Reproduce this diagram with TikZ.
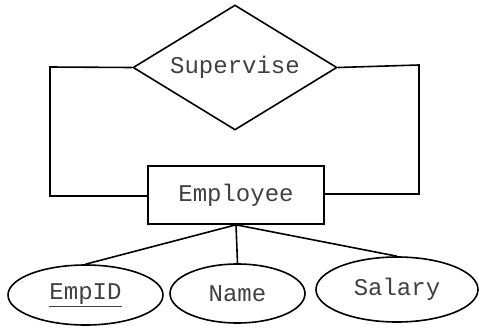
\documentclass[tikz,border=0pt]{standalone}
\usepackage{fontspec}
\setmonofont{Liberation Mono}
\usetikzlibrary{shapes.geometric}
\begin{document}
\begin{tikzpicture}[x=1pt,y=-1pt,
  every node/.style={font=\ttfamily\fontsize{24}{26}\selectfont, text=black!75},
  conn/.style={line width=1.6pt},
  entity/.style={draw, line width=1.6pt, rectangle, minimum width=176pt, minimum height=58pt, inner sep=0pt},
  rel/.style={draw, line width=1.6pt, diamond, aspect=1.63, minimum width=204pt, minimum height=125pt, inner sep=0pt},
  attr/.style={draw, line width=1.6pt, ellipse, inner sep=0pt}]
\useasboundingbox (0,0) rectangle (479,327);
\node[rel] (sup) at (235,67.5) {Supervise};
\node[entity] (emp) at (236,195) {Employee};
\node[attr, minimum width=155pt, minimum height=60pt] (id) at (85.5,295) {\underline{EmpID}};
\node[attr, minimum width=135pt, minimum height=59pt] (name) at (237.5,293.5) {Name};
\node[attr, minimum width=162pt, minimum height=65pt] (sal) at (397,289.5) {Salary};
\coordinate (lt) at (50,67);
\coordinate (lb) at (50,196);
\coordinate (rt) at (419,65);
\coordinate (rb) at (419,194);
\draw[conn] (sup.west) -- (lt) -- (lb) -- (emp.west |- lb);
\draw[conn] (sup.east) -- (rt) -- (rb) -- (emp.east |- rb);
\draw[conn] (emp.south) -- (id.north);
\draw[conn] (emp.south) -- (name.north);
\draw[conn] (emp.south) -- (sal.north);
\end{tikzpicture}
\end{document}
